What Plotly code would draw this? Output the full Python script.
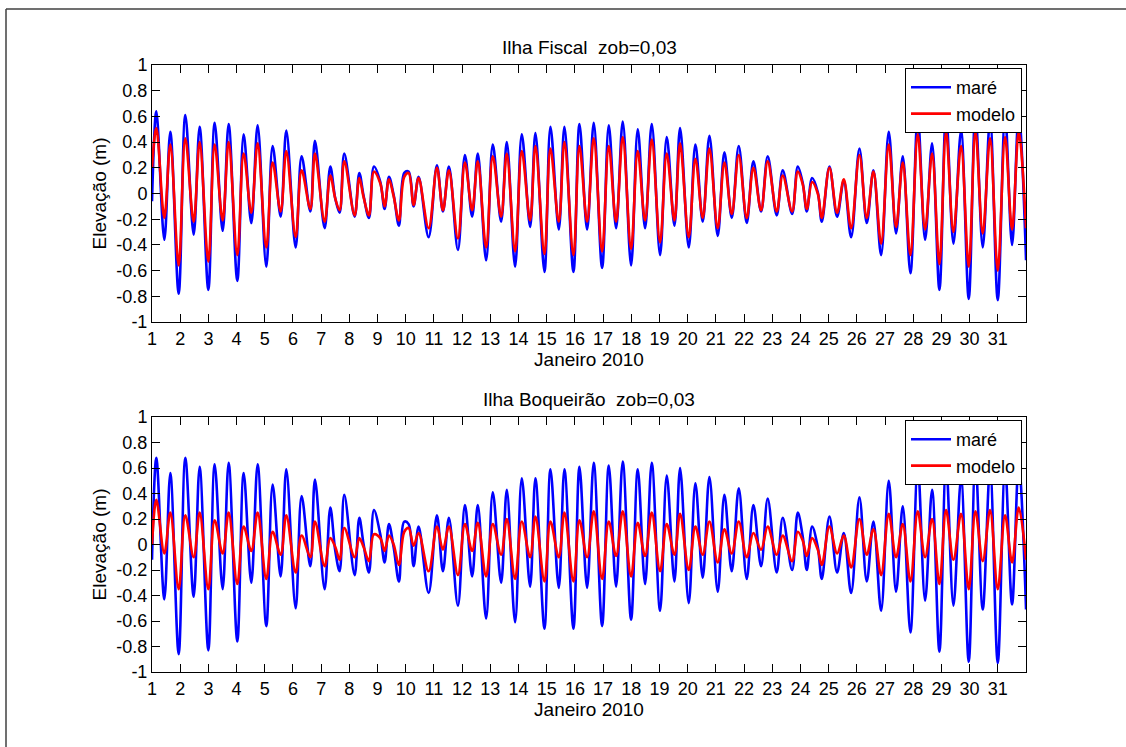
import plotly.graph_objects as go

# ---------------- data ----------------
# time of successive high/low waters, in days of January 2010
dias = [1.000, 1.154, 1.437, 1.650, 1.946, 2.182, 2.478, 2.690, 2.998, 3.222,
        3.506, 3.719, 4.026, 4.251, 4.522, 4.747, 5.054, 5.279, 5.563, 5.764,
        6.095, 6.307, 6.615, 6.780, 7.123, 7.324, 7.501, 7.655, 7.820, 8.187,
        8.352, 8.506, 8.695, 8.872, 9.097, 9.251, 9.404, 9.570, 9.759, 9.948,
        10.102, 10.279, 10.456, 10.811, 11.106, 11.319, 11.532, 11.851, 12.100, 12.355,
        12.556, 12.851, 13.087, 13.383, 13.584, 13.879, 14.116, 14.411, 14.600, 14.920,
        15.132, 15.428, 15.629, 15.948, 16.161, 16.433, 16.669, 16.965, 17.201, 17.461,
        17.697, 17.993, 18.229, 18.489, 18.726, 19.021, 19.258, 19.530, 19.730, 20.038,
        20.274, 20.534, 20.771, 21.066, 21.303, 21.563, 21.811, 22.095, 22.331, 22.603,
        22.839, 23.158, 23.372, 23.704, 23.905, 24.083, 24.225, 24.414, 24.615, 24.757,
        25.028, 25.300, 25.537, 25.797, 26.092, 26.352, 26.589, 26.861, 27.132, 27.392,
        27.629, 27.901, 28.161, 28.421, 28.669, 28.929, 29.165, 29.426, 29.697, 29.969,
        30.206, 30.466, 30.726, 30.998, 31.258, 31.506, 31.742, 32.002]

mare_fiscal = [-0.06, 0.64, -0.36, 0.48, -0.78, 0.61, -0.32, 0.52, -0.75, 0.55,
               -0.29, 0.54, -0.68, 0.46, -0.23, 0.53, -0.57, 0.37, -0.18, 0.49,
               -0.42, 0.29, -0.14, 0.41, -0.27, 0.21, -0.04, -0.15, 0.31, -0.18,
               0.16, -0.02, -0.19, 0.21, 0.09, -0.12, 0.13, -0.01, -0.25, 0.16,
               0.17, -0.10, 0.13, -0.34, 0.22, -0.14, 0.21, -0.44, 0.30, -0.18,
               0.31, -0.52, 0.38, -0.22, 0.40, -0.57, 0.46, -0.26, 0.47, -0.61,
               0.52, -0.28, 0.52, -0.61, 0.54, -0.28, 0.55, -0.58, 0.53, -0.27,
               0.56, -0.56, 0.50, -0.27, 0.54, -0.48, 0.44, -0.25, 0.51, -0.42,
               0.38, -0.22, 0.45, -0.33, 0.32, -0.19, 0.37, -0.23, 0.25, -0.14,
               0.29, -0.17, 0.18, -0.16, 0.21, 0.08, -0.14, 0.12, 0.01, -0.22,
               0.21, -0.18, 0.10, -0.34, 0.35, -0.23, 0.18, -0.48, 0.48, -0.31,
               0.29, -0.62, 0.60, -0.36, 0.39, -0.75, 0.62, -0.39, 0.49, -0.82,
               0.63, -0.42, 0.58, -0.83, 0.61, -0.40, 0.62, -0.52]

modelo_fiscal = [0.20, 0.51, -0.19, 0.38, -0.56, 0.43, -0.22, 0.40, -0.53, 0.38,
                 -0.21, 0.40, -0.48, 0.31, -0.15, 0.39, -0.42, 0.24, -0.14, 0.33,
                 -0.34, 0.18, -0.12, 0.31, -0.22, 0.14, -0.04, -0.13, 0.25, -0.17,
                 0.12, -0.03, -0.17, 0.17, 0.08, -0.10, 0.11, -0.02, -0.21, 0.13,
                 0.16, -0.09, 0.12, -0.27, 0.20, -0.13, 0.18, -0.35, 0.24, -0.13,
                 0.25, -0.42, 0.29, -0.18, 0.31, -0.45, 0.33, -0.21, 0.37, -0.47,
                 0.35, -0.22, 0.40, -0.48, 0.37, -0.22, 0.43, -0.45, 0.37, -0.22,
                 0.44, -0.43, 0.33, -0.21, 0.42, -0.38, 0.31, -0.21, 0.39, -0.34,
                 0.27, -0.19, 0.35, -0.27, 0.24, -0.16, 0.30, -0.19, 0.20, -0.13,
                 0.25, -0.14, 0.14, -0.14, 0.17, 0.07, -0.12, 0.09, 0.00, -0.19,
                 0.20, -0.15, 0.11, -0.27, 0.30, -0.19, 0.17, -0.39, 0.38, -0.26,
                 0.24, -0.48, 0.46, -0.28, 0.31, -0.55, 0.48, -0.30, 0.37, -0.57,
                 0.48, -0.31, 0.43, -0.60, 0.44, -0.28, 0.48, -0.27]

mare_boqueirao = [-0.12, 0.68, -0.43, 0.56, -0.86, 0.68, -0.41, 0.61, -0.83, 0.63,
                  -0.35, 0.64, -0.76, 0.56, -0.30, 0.63, -0.64, 0.47, -0.25, 0.59,
                  -0.50, 0.38, -0.17, 0.51, -0.35, 0.29, -0.05, -0.21, 0.39, -0.24,
                  0.21, 0.00, -0.22, 0.27, 0.08, -0.14, 0.16, -0.02, -0.29, 0.18,
                  0.16, -0.17, 0.14, -0.38, 0.23, -0.21, 0.21, -0.48, 0.31, -0.25,
                  0.31, -0.58, 0.41, -0.30, 0.43, -0.61, 0.52, -0.33, 0.52, -0.66,
                  0.59, -0.34, 0.59, -0.66, 0.61, -0.34, 0.64, -0.64, 0.62, -0.33,
                  0.65, -0.59, 0.59, -0.31, 0.64, -0.52, 0.54, -0.29, 0.60, -0.46,
                  0.48, -0.26, 0.53, -0.37, 0.39, -0.21, 0.44, -0.27, 0.31, -0.17,
                  0.36, -0.22, 0.21, -0.20, 0.25, 0.06, -0.20, 0.14, -0.02, -0.27,
                  0.22, -0.22, 0.09, -0.38, 0.37, -0.29, 0.18, -0.52, 0.50, -0.37,
                  0.30, -0.69, 0.62, -0.44, 0.43, -0.84, 0.64, -0.48, 0.52, -0.92,
                  0.66, -0.51, 0.60, -0.93, 0.61, -0.47, 0.64, -0.51]

modelo_boqueirao = [0.00, 0.35, -0.07, 0.25, -0.35, 0.23, -0.10, 0.25, -0.35, 0.19,
                    -0.07, 0.25, -0.31, 0.14, -0.05, 0.25, -0.27, 0.10, -0.08, 0.23,
                    -0.22, 0.07, -0.10, 0.18, -0.17, 0.05, -0.02, -0.12, 0.13, -0.10,
                    0.05, -0.02, -0.13, 0.08, 0.05, -0.05, 0.07, 0.00, -0.16, 0.10,
                    0.13, -0.01, 0.09, -0.21, 0.14, -0.04, 0.14, -0.24, 0.16, -0.05,
                    0.17, -0.25, 0.16, -0.08, 0.20, -0.27, 0.18, -0.10, 0.22, -0.29,
                    0.18, -0.10, 0.25, -0.29, 0.19, -0.10, 0.26, -0.27, 0.18, -0.09,
                    0.26, -0.25, 0.17, -0.09, 0.25, -0.21, 0.16, -0.08, 0.24, -0.20,
                    0.14, -0.08, 0.18, -0.14, 0.12, -0.07, 0.18, -0.10, 0.09, -0.04,
                    0.14, -0.08, 0.07, -0.13, 0.10, 0.03, -0.09, 0.05, -0.04, -0.16,
                    0.14, -0.07, 0.07, -0.18, 0.20, -0.08, 0.12, -0.24, 0.24, -0.10,
                    0.16, -0.29, 0.26, -0.10, 0.20, -0.31, 0.27, -0.12, 0.24, -0.35,
                    0.26, -0.13, 0.27, -0.35, 0.23, -0.14, 0.29, -0.12]

x_ticks = list(range(1, 32))
y_ticks = [-1, -0.8, -0.6, -0.4, -0.2, 0, 0.2, 0.4, 0.6, 0.8, 1]
y_tick_labels = ["-1", "-0.8", "-0.6", "-0.4", "-0.2", "0", "0.2", "0.4", "0.6", "0.8", "1"]

titulos = ["Ilha Fiscal\u00a0 zob=0,03", "Ilha Boqueir\u00e3o\u00a0 zob=0,03"]
rotulo_x = "Janeiro 2010"
rotulo_y = "Eleva\u00e7\u00e3o (m)"
nomes = ["mar\u00e9", "modelo"]

# ---------------- layout in pixels ----------------
W, H = 1126, 747
FONT = "Liberation Sans, Arial, Helvetica, sans-serif"
TICK_SIZE = 18
LABEL_SIZE = 19
LEGEND_SIZE = 18


def px(x):
    return x / W


def py(y):
    return 1 - y / H


x_dom = [px(152), px(1026)]
y_doms = [[py(322), py(65)], [py(672), py(417)]]

fig = go.Figure()

series = [(mare_fiscal, modelo_fiscal), (mare_boqueirao, modelo_boqueirao)]
for i, (mare, modelo) in enumerate(series):
    xa = "x" if i == 0 else "x2"
    ya = "y" if i == 0 else "y2"
    lg = "legend" if i == 0 else "legend2"
    fig.add_trace(go.Scatter(x=dias, y=mare, mode="lines", name=nomes[0],
                             line=dict(color="#0000ff", width=2.6, shape="spline", smoothing=1.0),
                             xaxis=xa, yaxis=ya, legend=lg))
    fig.add_trace(go.Scatter(x=dias, y=modelo, mode="lines", name=nomes[1],
                             line=dict(color="#ff0000", width=2.6, shape="spline", smoothing=1.0),
                             xaxis=xa, yaxis=ya, legend=lg))

axis_common = dict(showline=True, linecolor="black", linewidth=1, mirror="ticks",
                   ticks="inside", ticklen=8, tickwidth=1, tickcolor="black",
                   showgrid=False, zeroline=False, automargin=False,
                   tickfont=dict(family=FONT, size=TICK_SIZE, color="black"))

for i in range(2):
    sx = "" if i == 0 else "2"
    fig.update_layout({
        f"xaxis{sx}": dict(axis_common, domain=x_dom, range=[1, 32], tickvals=x_ticks,
                           ticktext=[str(v) for v in x_ticks],
                           anchor=f"y{sx}",
                           title=dict(text=rotulo_x, standoff=2,
                                      font=dict(family=FONT, size=LABEL_SIZE, color="black"))),
        f"yaxis{sx}": dict(axis_common, domain=y_doms[i], range=[-1, 1], tickvals=y_ticks,
                           ticktext=y_tick_labels, anchor=f"x{sx}",
                           title=dict(text=rotulo_y, standoff=4,
                                      font=dict(family=FONT, size=LABEL_SIZE, color="black"))),
    })

legend_common = dict(bgcolor="white", bordercolor="black", borderwidth=1,
                     font=dict(family=FONT, size=LEGEND_SIZE, color="black"),
                     xanchor="right", yanchor="top", x=px(1022), itemwidth=40,
                     tracegroupgap=0)
fig.update_layout(
    legend=dict(legend_common, y=py(68)),
    legend2=dict(legend_common, y=py(420)),
)

annotations = []
for i, yc in enumerate([47, 399]):
    annotations.append(dict(text=titulos[i], xref="paper", yref="paper",
                            x=px(589), y=py(yc), xanchor="center", yanchor="middle",
                            showarrow=False,
                            font=dict(family=FONT, size=LABEL_SIZE, color="black")))

shapes = [
    dict(type="line", xref="paper", yref="paper", x0=px(6), x1=1, y0=py(9), y1=py(9),
         line=dict(color="#404040", width=1.5)),
    dict(type="line", xref="paper", yref="paper", x0=px(6), x1=px(6), y0=0, y1=py(9),
         line=dict(color="#404040", width=1.5)),
]

fig.update_layout(width=W, height=H, margin=dict(l=0, r=0, t=0, b=0),
                  paper_bgcolor="white", plot_bgcolor="white",
                  annotations=annotations, shapes=shapes, showlegend=True,
                  font=dict(family=FONT, color="black"))

fig.write_html("out.html", config={"displayModeBar": False},
               post_script="document.body.style.margin='0px';document.body.style.padding='0px';")
